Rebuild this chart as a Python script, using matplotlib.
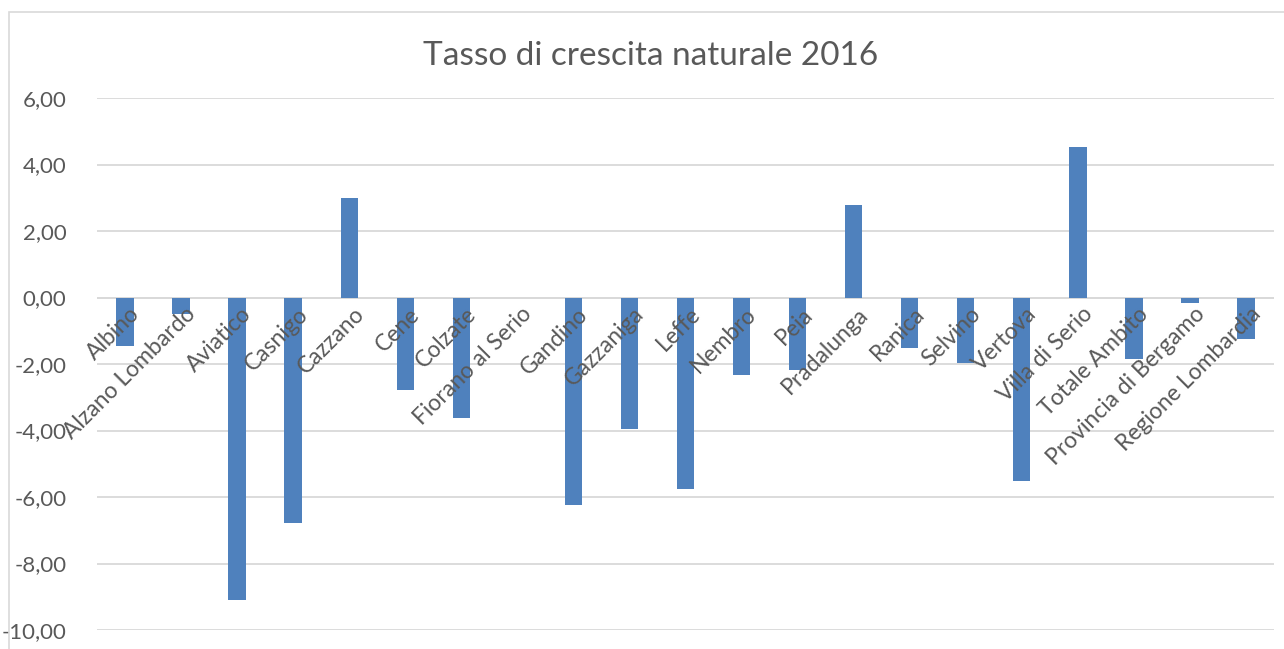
import matplotlib
matplotlib.use("Agg")
import matplotlib.pyplot as plt
import matplotlib.transforms as mtransforms
from matplotlib.patches import Rectangle

plt.rcParams['font.family'] = ['Lato', 'DejaVu Sans']

# data
comuni = ['Albino', 'Alzano Lombardo', 'Aviatico', 'Casnigo', 'Cazzano', 'Cene',
          'Colzate', 'Fiorano al Serio', 'Gandino', 'Gazzaniga', 'Leffe', 'Nembro',
          'Peia', 'Pradalunga', 'Ranica', 'Selvino', 'Vertova', 'Villa di Serio',
          'Totale Ambito', 'Provincia di Bergamo', 'Regione Lombardia']
tasso = [-1.47, -0.51, -9.10, -6.77, 3.00, -2.79, -3.62, 0.0, -6.24, -3.95,
         -5.75, -2.32, -2.18, 2.77, -1.52, -1.97, -5.52, 4.52, -1.84, -0.17, -1.26]
yticks = [6, 4, 2, 0, -2, -4, -6, -8, -10]

grey_txt = '#595959'
blue = '#4f81bd'

fig = plt.figure(figsize=(12.84, 6.49), dpi=100, facecolor='w')
# outer chart border, like the excel chart area
fig.patches.append(Rectangle((9/1284, -0.05), 1.1, 1 - 12/649 + 0.05,
                             transform=fig.transFigure, fill=False,
                             edgecolor='#d9d9d9', linewidth=1.2))

ax = fig.add_axes([97/1284, 1 - 630/649, (1274 - 97)/1284, (630 - 98)/649])

pos = list(range(len(comuni)))
ax.bar(pos, tasso, width=0.31, color=blue, linewidth=0, zorder=3)

ax.set_xlim(-0.5, len(comuni) - 0.5)
ax.set_ylim(-10, 6)
ax.set_yticks(yticks)
ax.set_yticklabels([('%.2f' % v).replace('.', ',') for v in yticks])
ax.tick_params(axis='y', length=0, pad=22, labelsize=16, labelcolor=grey_txt)
ax.set_xticks([])

ax.grid(axis='y', color='#d9d9d9', linewidth=1.3, zorder=0)
for s in ax.spines.values():
    s.set_visible(False)
ax.axhline(0, color='#d9d9d9', linewidth=1.3, zorder=2)

# category labels sit along the zero line, rotated like in excel
off = mtransforms.offset_copy(ax.transData, fig=fig, x=4, y=-6, units='dots')
for i, name in enumerate(comuni):
    ax.text(pos[i], 0, name, transform=off, rotation=45, rotation_mode='anchor',
            ha='right', va='top', fontsize=16.5, color=grey_txt, zorder=4)

fig.text(651/1284, 1 - 56/649, 'Tasso di crescita naturale 2016', ha='center',
         va='center', fontsize=24, color=grey_txt)

fig.savefig('out.png', dpi=100)
